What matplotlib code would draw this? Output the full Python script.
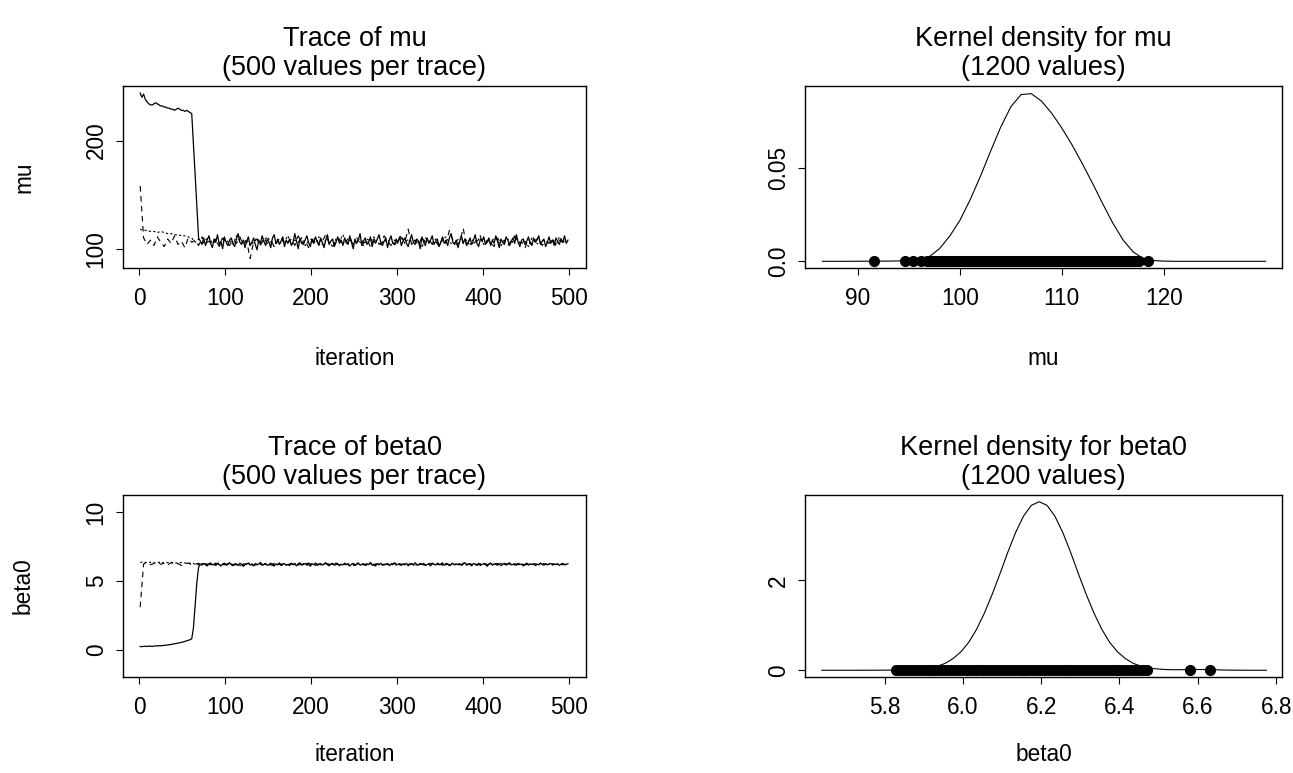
import numpy as np

from matplotlib import pyplot as plt

# ---- trace of mu : chain 1 every 2nd iteration, chains 2 and 3 every 4th
mu_chain1 = [244, 240, 243, 238, 236, 234, 233, 233, 234, 235, 234, 233, 232, 232, 231,
             231, 230, 230, 229, 229, 228, 229, 230, 229, 228, 228, 227, 228, 227, 226,
             225, 197, 168, 139, 110,
             107, 104, 110, 103, 108, 112, 105, 101, 109, 106,
             113, 104, 107, 100, 111, 106, 103, 108, 110, 105,
             102, 109, 114, 106, 104, 108, 101, 107, 111, 103,
             106, 110, 104, 99, 108, 105, 112, 107, 103, 109,
             106, 101, 110, 113, 105, 108, 104, 107, 111, 102,
             108, 105, 109, 103, 106, 114, 107, 100, 110, 105,
             104, 108, 112, 106, 102, 109, 105, 111, 107, 103,
             110, 106, 101, 108, 113, 104, 107, 109, 102, 106,
             111, 105, 108, 103, 110, 107, 104, 112, 106, 100,
             109, 105, 108, 114, 103, 107, 110, 104, 106, 111,
             102, 108, 105, 109, 113, 106, 103, 107, 110, 101,
             108, 112, 105, 104, 109, 106, 111, 103, 107, 110,
             105, 102, 108, 113, 106, 104, 109, 107, 100, 111,
             106, 103, 110, 105, 108, 112, 104, 107, 109, 102,
             106, 111, 105, 108, 103, 110, 114, 106, 104, 108,
             101, 107, 112, 105, 109, 103, 106, 110, 104, 108,
             113, 105, 102, 109, 107, 111, 104, 106, 110, 103,
             108, 105, 112, 107, 101, 109, 106, 104, 111, 108,
             103, 107, 110, 105, 113, 106, 102, 108, 109, 104,
             107, 111, 105, 103, 110, 106, 108, 112, 104, 107,
             109, 102, 106, 111, 105, 108, 103, 110, 107, 104,
             109, 106, 112, 105, 108]
mu_chain2 = [158, 110, 104, 108, 103, 111, 106, 102, 109, 105,
             112, 104, 107, 101, 110, 106, 108, 103, 111, 105,
             107, 104, 109, 102, 110, 106, 103, 108, 105, 111,
             104, 107, 91, 106, 109, 103, 110, 105, 108, 102,
             107, 111, 104, 106, 109, 103, 112, 105, 108, 101,
             106, 110, 104, 107, 113, 105, 102, 108, 109, 104,
             107, 111, 103, 106, 110, 105, 108, 102, 109, 106,
             104, 112, 107, 103, 108, 105, 110, 106, 118, 104,
             108, 103, 111, 106, 109, 104, 107, 102, 110, 105,
             117, 108, 104, 106, 119, 103, 109, 105, 107, 111,
             104, 108, 106, 102, 110, 105, 108, 103, 107, 112,
             105, 106, 101, 109, 104, 108, 110, 103, 107, 105,
             109, 104, 108, 106, 103]
mu_chain3 = [118, 117, 117, 116, 116, 115, 116, 115, 114, 114, 113, 113, 112, 112, 111, 110,
             106, 109, 104, 108, 111, 105, 107, 103, 110, 106,
             108, 104, 112, 107, 105, 109, 103, 106, 110, 104,
             108, 111, 106, 102, 109, 105, 107, 112, 104, 108,
             106, 110, 103, 107, 109, 105, 111, 104, 108, 106,
             102, 109, 107, 113, 105, 108, 104, 110, 106, 103,
             109, 107, 111, 105, 104, 108, 106, 110, 103, 107,
             112, 105, 109, 104, 108, 106, 101, 110, 107, 105,
             109, 103, 108, 111, 106, 104, 107, 110, 105, 108,
             103, 109, 106, 112, 104, 107, 105, 110, 108, 103,
             106, 109, 104, 111, 107, 105, 108, 102, 110, 106,
             104, 108, 107, 105, 109, 103, 111, 106, 108]

# ---- trace of beta0
beta0_chain1 = [0.25, 0.24, 0.26, 0.27, 0.25, 0.28, 0.27, 0.26, 0.28, 0.30,
                0.29, 0.31, 0.30, 0.32, 0.33, 0.35, 0.36, 0.38, 0.40, 0.42,
                0.45, 0.47, 0.50, 0.52, 0.55, 0.58, 0.62, 0.66, 0.70, 0.74,
                0.8, 1.6, 3.2, 4.9, 6.0,
                6.21, 6.15, 6.27, 6.18, 6.09, 6.24, 6.31, 6.16, 6.22, 6.12,
                6.26, 6.19, 6.08, 6.23, 6.29, 6.14, 6.20, 6.33, 6.17, 6.11,
                6.25, 6.19, 6.13, 6.28, 6.22, 6.06, 6.18, 6.24, 6.30, 6.15,
                6.21, 6.10, 6.26, 6.17, 6.23, 6.35, 6.14, 6.19, 6.27, 6.12,
                6.20, 6.29, 6.16, 6.08, 6.24, 6.18, 6.31, 6.13, 6.22, 6.26,
                6.15, 6.20, 6.11, 6.28, 6.17, 6.23, 6.09, 6.25, 6.32, 6.16,
                6.19, 6.27, 6.14, 6.21, 6.07, 6.24, 6.18, 6.30, 6.12, 6.22,
                6.26, 6.15, 6.20, 6.33, 6.17, 6.10, 6.23, 6.28, 6.14, 6.19,
                6.25, 6.11, 6.21, 6.16, 6.29, 6.18, 6.24, 6.09, 6.22, 6.27,
                6.13, 6.20, 6.31, 6.15, 6.18, 6.26, 6.12, 6.23, 6.19, 6.34,
                6.16, 6.21, 6.08, 6.25, 6.17, 6.29, 6.14, 6.22, 6.19, 6.27,
                6.11, 6.24, 6.18, 6.30, 6.15, 6.20, 6.26, 6.13, 6.23, 6.17,
                6.28, 6.10, 6.21, 6.25, 6.16, 6.32, 6.19, 6.14, 6.24, 6.20,
                6.27, 6.12, 6.18, 6.23, 6.09, 6.26, 6.21, 6.15, 6.29, 6.17,
                6.22, 6.31, 6.14, 6.19, 6.25, 6.11, 6.20, 6.28, 6.16, 6.23,
                6.18, 6.26, 6.13, 6.21, 6.33, 6.15, 6.24, 6.19, 6.10, 6.27,
                6.22, 6.16, 6.29, 6.12, 6.20, 6.25, 6.18, 6.07, 6.23, 6.30,
                6.14, 6.21, 6.26, 6.17, 6.24, 6.11, 6.19, 6.28, 6.15, 6.22,
                6.32, 6.16, 6.20, 6.25, 6.13, 6.27, 6.18, 6.23, 6.09, 6.21,
                6.29, 6.15, 6.24, 6.19, 6.26, 6.12, 6.22, 6.17, 6.30, 6.20,
                6.14, 6.25, 6.18, 6.23, 6.27, 6.16, 6.21, 6.19, 6.24, 6.13,
                6.22, 6.28, 6.17, 6.20, 6.25]
beta0_chain2 = [3.1, 6.24, 6.30, 6.18, 6.27, 6.35, 6.21, 6.29, 6.16, 6.33,
                6.19, 6.26, 6.12, 6.23, 6.30, 6.17, 6.21, 6.28, 6.14, 6.25,
                6.20, 6.09, 6.24, 6.31, 6.18, 6.22, 6.27, 6.13, 6.19, 6.26,
                6.16, 6.23, 6.29, 6.11, 6.21, 6.25, 6.18, 6.32, 6.15, 6.20,
                6.27, 6.14, 6.22, 6.19, 6.28, 6.10, 6.24, 6.17, 6.21, 6.30,
                6.16, 6.25, 6.20, 6.13, 6.27, 6.22, 6.18, 6.29, 6.15, 6.23,
                6.19, 6.26, 6.12, 6.21, 6.31, 6.17, 6.24, 6.20, 6.14, 6.28,
                6.22, 6.16, 6.25, 6.19, 6.30, 6.13, 6.23, 6.18, 6.27, 6.21,
                6.15, 6.26, 6.20, 6.11, 6.24, 6.29, 6.17, 6.22, 6.19, 6.25,
                6.14, 6.28, 6.21, 6.18, 6.23, 6.16, 6.26, 6.20, 6.13, 6.24,
                6.31, 6.19, 6.22, 6.17, 6.27, 6.15, 6.21, 6.25, 6.18, 6.23,
                6.20, 6.26, 6.16, 6.22, 6.19, 6.24, 6.17, 6.28, 6.21, 6.14,
                6.25, 6.19, 6.23, 6.18, 6.22]
beta0_chain3 = [6.35, 6.38, 6.33, 6.36, 6.31, 6.34, 6.37, 6.30, 6.33, 6.35,
                6.32, 6.29, 6.34, 6.31, 6.28, 6.30,
                6.22, 6.17, 6.26, 6.20, 6.13, 6.24, 6.29, 6.18, 6.21, 6.15,
                6.27, 6.19, 6.23, 6.10, 6.25, 6.20, 6.31, 6.16, 6.22, 6.18,
                6.26, 6.14, 6.21, 6.28, 6.17, 6.24, 6.19, 6.12, 6.23, 6.27,
                6.16, 6.20, 6.30, 6.18, 6.25, 6.13, 6.22, 6.19, 6.26, 6.15,
                6.21, 6.28, 6.17, 6.23, 6.20, 6.11, 6.24, 6.29, 6.18, 6.22,
                6.16, 6.25, 6.19, 6.27, 6.14, 6.21, 6.23, 6.18, 6.30, 6.20,
                6.15, 6.24, 6.19, 6.26, 6.12, 6.22, 6.28, 6.17, 6.21, 6.25,
                6.18, 6.23, 6.14, 6.27, 6.20, 6.16, 6.24, 6.19, 6.29, 6.22,
                6.13, 6.25, 6.18, 6.21, 6.26, 6.17, 6.23, 6.20, 6.15, 6.28,
                6.19, 6.24, 6.21, 6.16, 6.27, 6.22, 6.18, 6.25, 6.20, 6.14,
                6.23, 6.26, 6.19, 6.21, 6.17, 6.24, 6.20, 6.22, 6.18]

# ---- kernel density of mu and the sample rug
mu_grid = [86.5] + list(range(87, 131))
mu_dens = [0.0, 0.0, 0.0, 0.0,
           0.00002, 0.00005, 0.0001, 0.0001, 0.0002, 0.0003, 0.0008, 0.0025, 0.0068, 0.0135,
           0.0220, 0.0330, 0.0455, 0.0590, 0.0720, 0.0830, 0.0895, 0.0900, 0.0860, 0.0795,
           0.0715, 0.0625, 0.0525, 0.0420, 0.0310, 0.0205, 0.0115, 0.0050, 0.0015, 0.0004,
           0.0001, 0.0, 0.0, 0.0, 0.0, 0.0, 0.0, 0.0, 0.0, 0.0, 0.0]
mu_rug = [91.6, 94.6, 95.4, 96.2,
          96.75, 97.0, 97.25, 97.5, 97.75, 98.0, 98.25, 98.5, 98.75, 99.0, 99.25, 99.5, 99.75,
          100.0, 100.25, 100.5, 100.75, 101.0, 101.25, 101.5, 101.75, 102.0, 102.25, 102.5,
          102.75, 103.0, 103.25, 103.5, 103.75, 104.0, 104.25, 104.5, 104.75, 105.0, 105.25,
          105.5, 105.75, 106.0, 106.25, 106.5, 106.75, 107.0, 107.25, 107.5, 107.75, 108.0,
          108.25, 108.5, 108.75, 109.0, 109.25, 109.5, 109.75, 110.0, 110.25, 110.5, 110.75,
          111.0, 111.25, 111.5, 111.75, 112.0, 112.25, 112.5, 112.75, 113.0, 113.25, 113.5,
          113.75, 114.0, 114.25, 114.5, 114.75, 115.0, 115.25, 115.5, 115.75, 116.0, 116.25,
          116.5, 116.75, 117.0, 117.25,
          117.6, 118.5]

# ---- kernel density of beta0 and the sample rug
beta0_grid = [5.64, 5.66, 5.675, 5.695, 5.715, 5.735, 5.755, 5.775, 5.795, 5.815, 5.835,
              5.855, 5.875, 5.895, 5.915, 5.935, 5.955, 5.975, 5.995, 6.015, 6.035, 6.055,
              6.075, 6.095, 6.115, 6.135, 6.155, 6.175, 6.195, 6.215, 6.235, 6.255,
              6.275, 6.295, 6.315, 6.335, 6.355, 6.375, 6.395, 6.415, 6.435, 6.455,
              6.475, 6.495, 6.515, 6.535, 6.555, 6.575, 6.595, 6.615, 6.635, 6.655,
              6.675, 6.695, 6.715, 6.735, 6.755, 6.775]
beta0_dens = [0.0, 0.0, 0.0, 0.0, 0.0, 0.0, 0.001, 0.001, 0.002, 0.003, 0.004, 0.007,
              0.013, 0.026, 0.049, 0.089, 0.154, 0.26, 0.41, 0.62, 0.91, 1.27,
              1.69, 2.15, 2.63, 3.07, 3.43, 3.67, 3.75, 3.67, 3.43, 3.07,
              2.63, 2.15, 1.69, 1.27, 0.91, 0.62, 0.41, 0.26, 0.154, 0.089,
              0.05, 0.03, 0.018, 0.012, 0.012, 0.015, 0.017, 0.016, 0.013, 0.008,
              0.004, 0.002, 0.001, 0.0, 0.0, 0.0]
beta0_rug = [5.83, 5.84, 5.85, 5.86, 5.87, 5.88, 5.89, 5.90, 5.91, 5.92, 5.93, 5.94,
             5.95, 5.96, 5.97, 5.98, 5.99, 6.00, 6.01, 6.02, 6.03, 6.04, 6.05, 6.06,
             6.07, 6.08, 6.09, 6.10, 6.11, 6.12, 6.13, 6.14, 6.15, 6.16, 6.17, 6.18,
             6.19, 6.20, 6.21, 6.22, 6.23, 6.24, 6.25, 6.26, 6.27, 6.28, 6.29, 6.30,
             6.31, 6.32, 6.33, 6.34, 6.35, 6.36, 6.37, 6.38, 6.39, 6.40, 6.41, 6.42,
             6.43, 6.44, 6.45, 6.46, 6.47, 6.58, 6.63]

plt.rcParams['font.family'] = ['Liberation Sans', 'DejaVu Sans']

fig = plt.figure(figsize=(12.93, 7.73), dpi=100)

W, H = 1293.0, 773.0


def panel(x0, x1, y0, y1):
    # axes from pixel box (left, right, top, bottom)
    return fig.add_axes([x0 / W, 1 - y1 / H, (x1 - x0) / W, (y1 - y0) / H])


def style(ax, title, xlabel, ylabel, xlab_y):
    for s in ax.spines.values():
        s.set_linewidth(1.0)
    ax.set_title(title, fontsize=19.5, pad=8, linespacing=1.15)
    ax.tick_params(axis='both', direction='out', length=5, width=0.8, labelsize=16.3)
    ax.tick_params(axis='x', pad=9)
    ax.tick_params(axis='y', pad=6, labelrotation=90)
    for t in ax.get_yticklabels():
        t.set_verticalalignment('center')
    ax.set_xlabel(xlabel, fontsize=16.3)
    ax.xaxis.set_label_coords(0.5, xlab_y)
    if ylabel:
        ax.set_ylabel(ylabel, fontsize=16.3)
        ax.yaxis.set_label_coords(-0.19, 0.5)


def trace(ax, c1, c2, c3):
    it1 = np.arange(len(c1)) * 2 + 1
    it2 = np.arange(len(c2)) * 4 + 1
    it3 = np.arange(len(c3)) * 4 + 1
    ax.plot(it3, c3, color='black', lw=0.8, linestyle=(0, (2, 2)))
    ax.plot(it2, c2, color='black', lw=0.8, linestyle=(0, (5, 4)))
    ax.plot(it1, c1, color='black', lw=0.9)
    ax.set_xlim(-19, 520)
    ax.set_xticks([0, 100, 200, 300, 400, 500])


# Trace of mu
ax1 = panel(123, 586, 86, 268)
trace(ax1, mu_chain1, mu_chain2, mu_chain3)
ax1.set_ylim(82.2, 250.5)
ax1.set_yticks([100, 200])
style(ax1, "Trace of mu\n(500 values per trace)", "iteration", "mu", -0.435)

# Kernel density for mu
ax2 = panel(805, 1282, 86, 268)
ax2.plot(mu_grid, mu_dens, color='black', lw=0.8)
ax2.plot(mu_rug, [0] * len(mu_rug), 'o', color='black', markersize=7)
ax2.set_xlim(84.8, 131.6)
ax2.set_ylim(-0.0036, 0.0941)
ax2.set_xticks([90, 100, 110, 120])
ax2.set_yticks([0.0, 0.05])
ax2.set_yticklabels(['0.0', '0.05'])
style(ax2, "Kernel density for mu\n(1200 values)", "mu", None, -0.435)

# Trace of beta0
ax3 = panel(123, 586, 495, 677)
trace(ax3, beta0_chain1, beta0_chain2, beta0_chain3)
ax3.set_ylim(-1.96, 11.23)
ax3.set_yticks([0, 5, 10])
style(ax3, "Trace of beta0\n(500 values per trace)", "iteration", "beta0", -0.36)

# Kernel density for beta0
ax4 = panel(805, 1282, 495, 677)
ax4.plot(beta0_grid, beta0_dens, color='black', lw=0.8)
ax4.plot(beta0_rug, [0] * len(beta0_rug), 'o', color='black', markersize=7)
ax4.set_xlim(5.597, 6.815)
ax4.set_ylim(-0.15, 3.9)
ax4.set_xticks([5.8, 6.0, 6.2, 6.4, 6.6, 6.8])
ax4.set_xticklabels(['5.8', '6.0', '6.2', '6.4', '6.6', '6.8'])
ax4.set_yticks([0, 2])
style(ax4, "Kernel density for beta0\n(1200 values)", "beta0", None, -0.36)

fig.savefig('out.png', dpi=100)
